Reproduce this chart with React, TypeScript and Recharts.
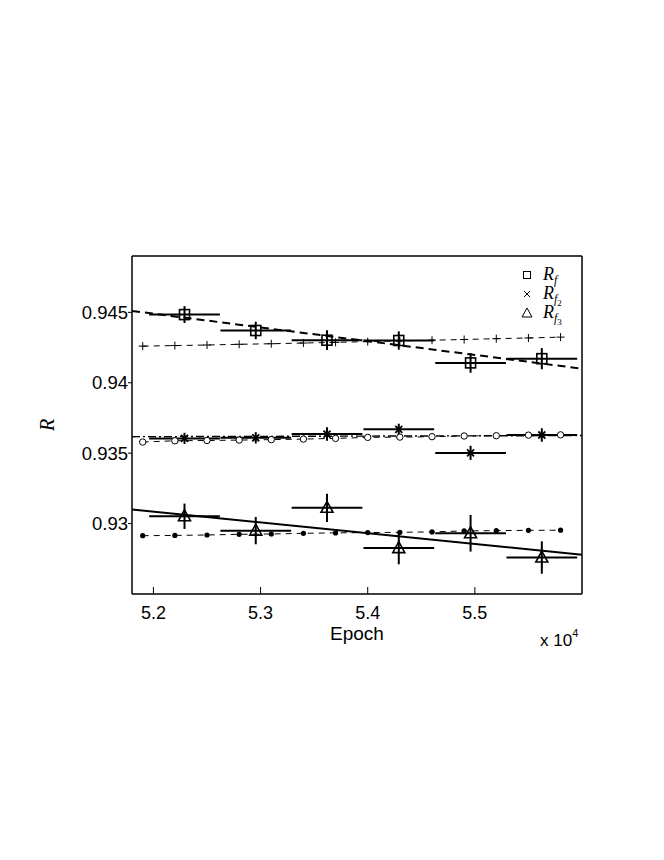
import { ComposedChart, Scatter, XAxis, YAxis, ErrorBar, Label, Legend } from 'recharts';

// measured bins (epoch centre, half width of the bin)
const binEpoch = [52290, 52955, 53620, 54290, 54960, 55625];
const binHalfWidth = [330, 330, 330, 330, 330, 330];

const rf = [0.94484, 0.94371, 0.94302, 0.943, 0.94141, 0.94171];
const rfErr = [0.0006, 0.00062, 0.0007, 0.00065, 0.0007, 0.00075];
const rf2 = [0.93605, 0.93609, 0.93636, 0.93669, 0.93502, 0.93629];
const rf2Err = [0.0004, 0.0004, 0.00048, 0.0004, 0.0005, 0.00048];
const rf3 = [0.93052, 0.9295, 0.93112, 0.92826, 0.92931, 0.92759];
const rf3Err = [0.0009, 0.00097, 0.001, 0.00115, 0.0013, 0.00115];

// linear fits
const fitEpoch = [51800, 56000];
const rfFit = [0.9451, 0.941];
const rf2Fit = [0.93617, 0.93625];
const rf3Fit = [0.931, 0.92779];

// model curves
const modelEpoch = [51900, 52200, 52500, 52800, 53100, 53400, 53700, 54000, 54300, 54600, 54900, 55200, 55500, 55800];
const modelPlus = [0.9426, 0.94264, 0.94268, 0.94273, 0.94277, 0.94282, 0.94287, 0.94292, 0.94297, 0.94302, 0.94307, 0.94313, 0.94318, 0.94324];
const modelCircle = [0.93579, 0.93588, 0.9359, 0.93593, 0.93596, 0.936, 0.93605, 0.93612, 0.93614, 0.93617, 0.93622, 0.93624, 0.93628, 0.9363];
const modelDot = [0.92914, 0.92916, 0.92919, 0.92924, 0.92926, 0.92931, 0.92934, 0.92936, 0.92938, 0.92941, 0.92948, 0.9295, 0.92952, 0.92953];

const xTicks = [52000, 53000, 54000, 55000];
const yTicks = [0.93, 0.935, 0.94, 0.945];
const legendSubs = ['', '2', '3'];

const toBins = (vals: number[], errs: number[]) =>
  binEpoch.map((x, i) => ({ x, y: vals[i], ex: binHalfWidth[i], ey: errs[i] }));
const toPts = (xs: number[], ys: number[]) => xs.map((x, i) => ({ x, y: ys[i] }));

const rfData = toBins(rf, rfErr);
const rf2Data = toBins(rf2, rf2Err);
const rf3Data = toBins(rf3, rf3Err);

const K = '#000';
const sansFont = '"Liberation Sans", Arial, sans-serif';
const serifFont = '"Liberation Serif", "DejaVu Serif", serif';

const Square = (p: any) => (
  <rect x={p.cx - 5} y={p.cy - 5} width={10} height={10} fill="none" stroke={K} strokeWidth={1.6} />
);
const Cross = (p: any) => (
  <path d={`M${p.cx - 3.5},${p.cy - 3.5}L${p.cx + 3.5},${p.cy + 3.5}M${p.cx - 3.5},${p.cy + 3.5}L${p.cx + 3.5},${p.cy - 3.5}`} stroke={K} strokeWidth={1.8} />
);
const Triangle = (p: any) => (
  <path d={`M${p.cx},${p.cy - 6.5}L${p.cx + 6},${p.cy + 4.5}L${p.cx - 6},${p.cy + 4.5}Z`} fill="none" stroke={K} strokeWidth={1.6} />
);
const Plus = (p: any) => (
  <path d={`M${p.cx - 4},${p.cy}L${p.cx + 4},${p.cy}M${p.cx},${p.cy - 4}L${p.cx},${p.cy + 4}`} stroke={K} strokeWidth={1} />
);
const Circle = (p: any) => <circle cx={p.cx} cy={p.cy} r={3.2} fill="#fff" stroke={K} strokeWidth={1} />;
const Dot = (p: any) => <circle cx={p.cx} cy={p.cy} r={2.6} fill={K} />;
const NoMark = () => <g />;

function LegendBox() {
  return (
    <svg width={90} height={66}>
      {legendSubs.map((s, i) => {
        const cy = 13 + i * 19;
        const mk =
          i === 0 ? <rect x={8.5} y={cy - 3.5} width={7} height={7} fill="none" stroke={K} strokeWidth={1} />
          : i === 1 ? <path d={`M9,${cy - 3}L15,${cy + 3}M9,${cy + 3}L15,${cy - 3}`} stroke={K} strokeWidth={1} />
          : <path d={`M12,${cy - 5}L17,${cy + 4}L7,${cy + 4}Z`} fill="none" stroke={K} strokeWidth={1} />;
        return (
          <g key={i}>
            {mk}
            <text x={28} y={cy + 5} fontFamily={serifFont} fontStyle="italic" fontSize={18} fill={K}>
              R
              <tspan fontSize={12} dy={4}>f</tspan>
              {s && <tspan fontSize={9} dy={3} fontStyle="normal">{s}</tspan>}
            </text>
          </g>
        );
      })}
    </svg>
  );
}

export default function App() {
  return (
    <ComposedChart
      width={648}
      height={800}
      margin={{ top: 248, right: 74, bottom: 154, left: 0 }}
    >
      <XAxis
        dataKey="x"
        type="number"
        domain={[51800, 56000]}
        allowDataOverflow
        ticks={xTicks}
        tickFormatter={(v: number) => (v / 10000).toFixed(1)}
        height={60}
        tickSize={-7}
        tickMargin={19}
        axisLine={{ stroke: K, strokeWidth: 1.5 }}
        tickLine={{ stroke: K }}
        tick={{ fill: K, fontSize: 18, fontFamily: sansFont }}
      >
        <Label
          content={(p: any) => (
            <text x={p.viewBox.x + p.viewBox.width / 2} y={p.viewBox.y + 46} textAnchor="middle" fontFamily={sansFont} fontSize={19} fill={K}>
              Epoch
            </text>
          )}
        />
        <Label
          content={(p: any) => (
            <text x={p.viewBox.x + p.viewBox.width - 42} y={p.viewBox.y + 52} fontFamily={sansFont} fontSize={17} fill={K}>
              x 10<tspan fontSize={11} dy={-9}>4</tspan>
            </text>
          )}
        />
      </XAxis>
      <XAxis
        xAxisId="top"
        dataKey="x"
        type="number"
        orientation="top"
        mirror
        height={1}
        domain={[51800, 56000]}
        allowDataOverflow
        ticks={xTicks}
        tick={false}
        tickSize={7}
        axisLine={{ stroke: K, strokeWidth: 1.5 }}
        tickLine={{ stroke: K }}
      />
      <YAxis
        dataKey="y"
        type="number"
        domain={[0.925, 0.949]}
        allowDataOverflow
        ticks={yTicks}
        tickFormatter={(v: number) => String(v)}
        width={124}
        tickSize={4}
        tickMargin={0}
        axisLine={{ stroke: K, strokeWidth: 1.5 }}
        tickLine={{ stroke: K }}
        tick={{ fill: K, fontSize: 18.5, fontFamily: sansFont }}
      >
        <Label
          content={(p: any) => {
            const x = p.viewBox.x + 39;
            const y = p.viewBox.y + p.viewBox.height / 2;
            return (
              <text x={x} y={y} transform={`rotate(-90 ${x} ${y})`} textAnchor="middle" dominantBaseline="central" fontFamily={serifFont} fontStyle="italic" fontSize={20} fill={K}>
                R
              </text>
            );
          }}
        />
      </YAxis>
      <YAxis
        yAxisId="right"
        dataKey="y"
        type="number"
        orientation="right"
        mirror
        width={1}
        domain={[0.925, 0.949]}
        allowDataOverflow
        ticks={yTicks}
        tick={false}
        tickSize={7}
        axisLine={{ stroke: K, strokeWidth: 1.5 }}
        tickLine={{ stroke: K }}
      />

      {/* fits */}
      <Scatter data={toPts(fitEpoch, rfFit)} shape={NoMark} line={{ stroke: K, strokeWidth: 2, strokeDasharray: '8 5' }} legendType="none" isAnimationActive={false} />
      <Scatter data={toPts(fitEpoch, rf2Fit)} shape={NoMark} line={{ stroke: K, strokeWidth: 1.4, strokeDasharray: '8 3 2 3' }} legendType="none" isAnimationActive={false} />
      <Scatter data={toPts(fitEpoch, rf3Fit)} shape={NoMark} line={{ stroke: K, strokeWidth: 2 }} legendType="none" isAnimationActive={false} />

      {/* model curves */}
      <Scatter data={toPts(modelEpoch, modelPlus)} shape={Plus} line={{ stroke: K, strokeWidth: 1, strokeDasharray: '6 5' }} legendType="none" isAnimationActive={false} />
      <Scatter data={toPts(modelEpoch, modelCircle)} shape={Circle} line={{ stroke: K, strokeWidth: 1, strokeDasharray: '6 5' }} legendType="none" isAnimationActive={false} />
      <Scatter data={toPts(modelEpoch, modelDot)} shape={Dot} line={{ stroke: K, strokeWidth: 1, strokeDasharray: '6 5' }} legendType="none" isAnimationActive={false} />

      {/* measurements */}
      <Scatter data={rfData} shape={Square} legendType="none" isAnimationActive={false}>
        <ErrorBar dataKey="ex" direction="x" width={0} stroke={K} strokeWidth={2} />
        <ErrorBar dataKey="ey" direction="y" width={0} stroke={K} strokeWidth={2} />
      </Scatter>
      <Scatter data={rf2Data} shape={Cross} legendType="none" isAnimationActive={false}>
        <ErrorBar dataKey="ex" direction="x" width={0} stroke={K} strokeWidth={2} />
        <ErrorBar dataKey="ey" direction="y" width={0} stroke={K} strokeWidth={2} />
      </Scatter>
      <Scatter data={rf3Data} shape={Triangle} legendType="none" isAnimationActive={false}>
        <ErrorBar dataKey="ex" direction="x" width={0} stroke={K} strokeWidth={2} />
        <ErrorBar dataKey="ey" direction="y" width={0} stroke={K} strokeWidth={2} />
      </Scatter>

      <Legend
        layout="vertical"
        align="center"
        verticalAlign="middle"
        content={() => <LegendBox />}
        wrapperStyle={{ position: 'absolute', top: 254, left: 507, width: 90, height: 66 }}
      />
    </ComposedChart>
  );
}
